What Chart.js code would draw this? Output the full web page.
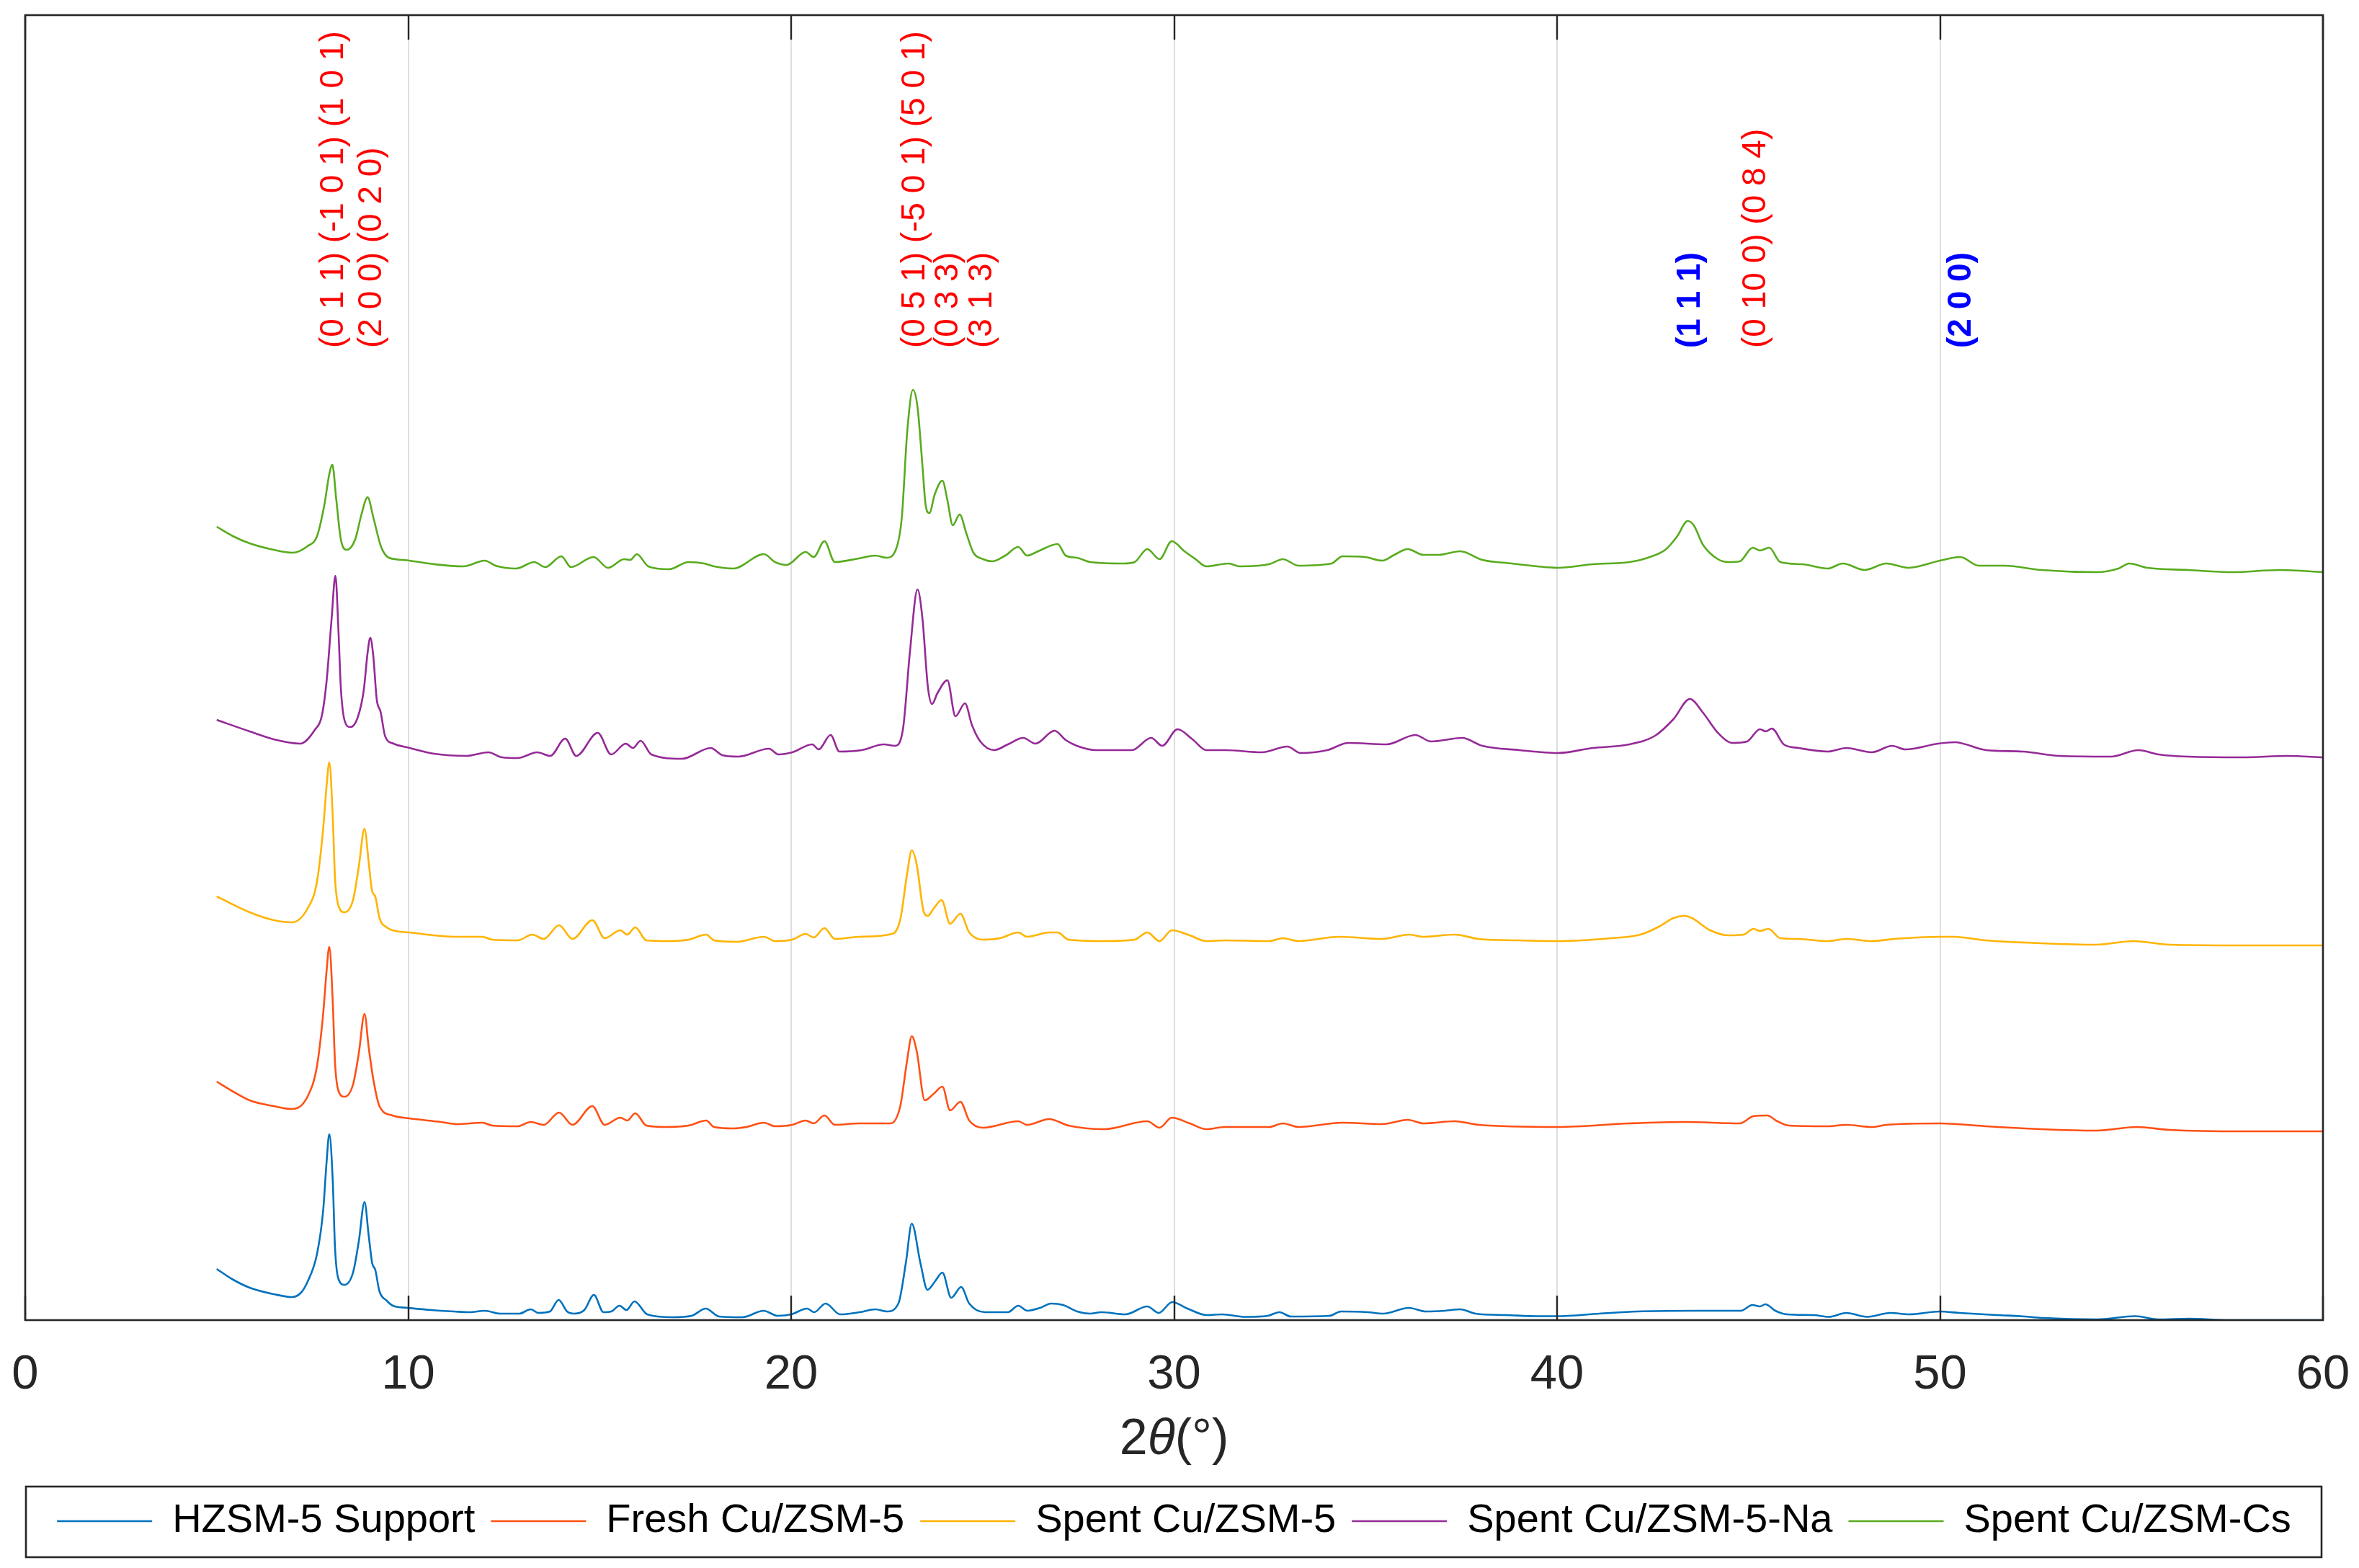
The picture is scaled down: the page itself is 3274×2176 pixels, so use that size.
<!DOCTYPE html>
<html>
<head>
<meta charset="utf-8">
<style>
  html, body { margin: 0; padding: 0; background: #ffffff; }
  #wrap { width: 3274px; height: 2176px; position: relative; }
  canvas { display: block; }
</style>
<script src="https://cdn.jsdelivr.net/npm/chart.js@4.4.1/dist/chart.umd.min.js"></script>
</head>
<body>
<div id="wrap"><canvas id="c" width="3274" height="2176"></canvas></div>
<script>
// ---------------- DATA ----------------
const seriesNames = ['HZSM-5 Support', 'Fresh Cu/ZSM-5', 'Spent Cu/ZSM-5', 'Spent Cu/ZSM-5-Na', 'Spent Cu/ZSM-Cs'];
const seriesColors = ['#0072BD', '#FF5014', '#FFB400', '#952A97', '#58AB1E'];
const xTicks = [0, 10, 20, 30, 40, 50, 60];
const xTitleParts = ['2', 'θ', '(°)'];

// [2θ (deg), offset intensity (a.u.)]
const hzsmSupport = [[5.0,71],[5.4,57],[5.86,45],[6.49,36],[6.96,32],[7.2,38],[7.37,53],[7.62,92],[7.78,152],[7.87,220],[7.94,258],[8.03,194],[8.09,100],[8.18,57],[8.34,49],[8.56,66],[8.71,109],[8.86,164],[8.97,117],[9.06,79],[9.14,70],[9.25,40],[9.44,27],[9.6,20],[10.0,17],[10.6,14],[11.2,12],[11.6,11],[12.0,13],[12.4,9],[12.9,9],[13.2,15],[13.4,10],[13.7,12],[13.93,28],[14.15,12],[14.34,9],[14.6,14],[14.85,35],[15.1,11],[15.3,12],[15.52,20],[15.7,14],[15.91,26],[16.24,8],[16.9,4],[17.4,6],[17.77,16],[18.12,5],[18.73,4],[19.28,13],[19.65,6],[20.0,8],[20.42,16],[20.6,11],[20.9,23],[21.28,8],[21.79,11],[22.2,15],[22.5,12],[22.8,23],[23.0,81],[23.15,134],[23.38,78],[23.56,42],[23.76,54],[23.95,66],[24.18,31],[24.44,46],[24.65,23],[25.06,11],[25.66,11],[25.93,20],[26.17,13],[26.5,17],[26.79,23],[27.1,21],[27.47,12],[27.8,9],[28.1,11],[28.73,8],[29.3,19],[29.6,10],[29.95,25],[30.35,16],[30.85,7],[31.25,8],[31.85,4.5],[32.45,6],[32.75,11],[33.05,5],[34.06,6],[34.36,12],[35.06,11],[35.46,9],[36.13,17],[36.57,12],[37.07,13],[37.47,15],[37.87,9],[38.68,7],[39.48,5.5],[40.0,5.5],[41.1,9],[42.1,12],[43.5,13],[44.8,13],[45.1,21],[45.3,19],[45.44,22],[45.7,13],[46.0,8],[46.7,7],[47.1,4.5],[47.55,10],[48.1,4.5],[48.7,10],[49.2,8],[50.0,12],[50.5,10],[51.5,7],[52.1,5.5],[52.7,3],[54.1,1],[55.1,5.5],[55.7,1],[56.5,2],[57.55,0],[60.0,0]];

const freshCu = [[5.0,331],[5.4,318],[5.86,305],[6.49,297],[6.96,293],[7.37,310],[7.62,353],[7.78,425],[7.87,485],[7.94,518],[8.03,442],[8.09,357],[8.18,318],[8.34,310],[8.56,327],[8.71,370],[8.86,425],[8.97,378],[9.09,334],[9.25,297],[9.59,284],[10.03,280],[10.85,275],[11.27,272],[11.94,274],[12.19,270],[12.86,269],[13.2,275],[13.54,271],[13.94,288],[14.29,271],[14.81,297],[15.13,271],[15.54,281],[15.72,277],[15.93,287],[16.22,270],[16.73,268],[17.32,270],[17.78,277],[17.99,268],[18.49,266],[18.83,268],[19.29,274],[19.58,269],[20.03,271],[20.38,277],[20.59,273],[20.87,284],[21.14,271],[21.77,273],[22.6,273],[22.85,297],[23.03,361],[23.15,394],[23.28,373],[23.49,305],[23.72,314],[23.95,324],[24.15,291],[24.42,303],[24.65,277],[25.01,267],[25.93,276],[26.16,271],[26.74,279],[27.24,270],[28.18,265],[29.3,276],[29.62,267],[29.94,281],[30.41,273],[30.84,265],[31.33,268],[32.48,268],[32.84,273],[33.25,268],[34.4,274],[35.44,272],[36.1,278],[36.51,273],[37.33,276],[37.95,271],[40.02,268],[41.89,273],[43.33,275],[44.77,273],[45.13,283],[45.49,284],[45.75,276],[46.05,270],[47.07,269],[47.55,271],[48.22,268],[48.6,271],[50.0,273],[50.43,272],[51.2,269],[52.64,265],[54.08,263],[55.13,268],[56.0,264],[57.92,262],[60.0,262]];

const spentCu = [[5.0,588],[5.86,566],[6.49,555],[6.96,552],[7.37,571],[7.62,609],[7.78,682],[7.87,742],[7.94,774],[8.03,699],[8.09,613],[8.18,575],[8.34,566],[8.56,583],[8.71,629],[8.86,682],[8.97,635],[9.06,595],[9.14,588],[9.25,558],[9.44,545],[9.59,541],[10.03,538],[11.27,532],[11.94,532],[12.19,528],[12.86,527],[13.24,535],[13.54,529],[13.94,548],[14.29,529],[14.81,555],[15.13,530],[15.54,541],[15.72,535],[15.93,545],[16.22,527],[16.81,526],[17.32,528],[17.78,535],[17.99,527],[18.58,525],[19.29,532],[19.58,526],[20.03,528],[20.38,536],[20.59,531],[20.87,544],[21.14,529],[21.77,532],[22.64,536],[22.85,556],[23.03,620],[23.15,652],[23.28,632],[23.46,567],[23.57,561],[23.72,571],[23.93,583],[24.15,550],[24.42,564],[24.65,538],[25.01,528],[25.45,530],[25.93,538],[26.16,532],[26.74,538],[26.96,538],[27.24,528],[28.18,526],[28.97,528],[29.3,538],[29.62,526],[29.94,541],[30.41,534],[30.84,526],[31.33,527],[32.48,526],[32.84,530],[33.25,526],[34.3,532],[35.44,529],[36.13,535],[36.51,532],[37.33,535],[37.95,529],[39.01,527],[40.02,526],[41.41,530],[42.18,535],[42.66,546],[43.04,558],[43.33,561],[43.52,558],[44.0,541],[44.48,534],[44.87,535],[45.13,543],[45.3,540],[45.52,543],[45.83,530],[46.3,529],[47.07,526],[47.55,529],[48.22,526],[48.8,529],[50.0,532],[50.35,532],[51.2,527],[52.64,523],[54.08,521],[55.04,526],[56.0,521],[57.92,520],[60.0,520]];

const spentCuNa = [[5.0,833],[5.86,817],[6.49,806],[7.18,800],[7.56,819],[7.75,840],[7.87,887],[8.0,973],[8.1,1033],[8.18,956],[8.24,879],[8.34,832],[8.49,823],[8.68,836],[8.84,874],[8.94,926],[9.01,947],[9.09,921],[9.18,861],[9.28,844],[9.4,810],[9.62,800],[10.04,794],[10.68,786],[11.52,783],[12.09,788],[12.45,781],[12.86,780],[13.37,788],[13.71,783],[14.1,807],[14.39,783],[14.95,815],[15.3,785],[15.68,800],[15.87,794],[16.07,804],[16.35,785],[17.15,779],[17.9,794],[18.2,784],[18.62,782],[19.42,793],[19.67,785],[20.03,788],[20.55,799],[20.72,792],[21.03,812],[21.26,789],[21.84,791],[22.42,799],[22.71,797],[22.92,820],[23.1,926],[23.3,1014],[23.43,973],[23.57,879],[23.68,855],[23.82,870],[24.08,888],[24.29,838],[24.54,856],[24.72,826],[24.94,803],[25.3,791],[25.66,799],[26.06,808],[26.38,800],[26.88,818],[27.17,805],[27.46,797],[27.96,791],[28.9,791],[29.4,808],[29.69,797],[30.09,820],[30.48,806],[30.84,791],[31.33,791],[32.29,788],[32.96,796],[33.3,787],[34.0,791],[34.55,801],[35.55,799],[36.3,812],[36.71,803],[37.52,808],[38.05,797],[39.01,791],[40.02,787],[40.93,794],[41.89,799],[42.56,811],[43.04,834],[43.47,862],[43.81,843],[44.2,815],[44.58,801],[44.96,803],[45.3,820],[45.45,817],[45.61,821],[45.92,799],[46.3,794],[47.07,789],[47.55,794],[48.22,788],[48.75,797],[49.09,792],[49.95,800],[50.38,802],[51.2,791],[52.16,789],[53.12,783],[54.46,782],[55.18,791],[55.71,785],[56.48,782],[57.92,781],[59.07,783],[60.0,781]];

const spentCuCs = [[5.0,1101],[5.42,1088],[5.86,1078],[6.49,1069],[6.99,1065],[7.37,1074],[7.62,1088],[7.81,1131],[7.94,1174],[8.02,1187],[8.12,1140],[8.24,1084],[8.4,1069],[8.62,1084],[8.78,1118],[8.94,1142],[9.09,1114],[9.28,1075],[9.44,1060],[9.67,1056],[10.03,1054],[10.68,1049],[11.44,1046],[12.0,1054],[12.28,1047],[12.82,1043],[13.29,1052],[13.58,1045],[14.0,1060],[14.25,1045],[14.84,1059],[15.22,1044],[15.64,1056],[15.8,1055],[15.97,1063],[16.27,1046],[16.81,1042],[17.32,1052],[17.73,1050],[17.99,1046],[18.49,1043],[19.29,1063],[19.58,1052],[19.88,1048],[20.38,1066],[20.59,1059],[20.87,1081],[21.14,1052],[21.77,1057],[22.2,1061],[22.49,1058],[22.74,1070],[22.89,1114],[23.03,1232],[23.18,1291],[23.3,1267],[23.43,1185],[23.51,1132],[23.61,1120],[23.75,1146],[23.95,1165],[24.08,1138],[24.22,1103],[24.4,1118],[24.58,1091],[24.76,1065],[25.01,1056],[25.26,1053],[25.59,1061],[25.93,1073],[26.16,1061],[26.45,1067],[26.96,1077],[27.17,1061],[27.46,1058],[27.82,1052],[28.68,1050],[28.97,1052],[29.3,1070],[29.62,1056],[29.94,1081],[30.27,1067],[30.56,1056],[30.84,1046],[31.42,1050],[31.71,1046],[32.48,1049],[32.84,1056],[33.25,1047],[34.11,1050],[34.4,1060],[34.98,1059],[35.44,1054],[35.75,1062],[36.1,1070],[36.51,1062],[36.9,1062],[37.47,1067],[38.05,1055],[38.82,1050],[39.49,1046],[40.02,1044],[40.93,1049],[41.89,1052],[42.37,1058],[42.85,1070],[43.14,1088],[43.41,1109],[43.57,1103],[43.81,1076],[44.2,1056],[44.48,1052],[44.77,1053],[45.11,1072],[45.3,1068],[45.54,1072],[45.83,1052],[46.4,1049],[47.07,1043],[47.46,1050],[48.03,1041],[48.6,1050],[49.18,1044],[50.0,1054],[50.53,1059],[51.01,1047],[51.68,1047],[52.64,1041],[54.08,1038],[54.66,1043],[54.94,1050],[55.42,1044],[56.48,1041],[57.63,1038],[58.88,1041],[60.0,1038]];

// hkl reflection labels (text, 2θ position, phase: z = ZSM-5 (red), c = Cu (blue bold))
const hklTexts  = ['(0 1 1) (-1 0 1) (1 0 1)', '(2 0 0) (0 2 0)', '(0 5 1) (-5 0 1) (5 0 1)', '(0 3 3)', '(3 1 3)', '(1 1 1)', '(0 10 0) (0 8 4)', '(2 0 0)'];
const hklAngles = [8.05, 9.05, 23.24, 24.11, 25.0, 43.48, 45.2, 50.57];
const hklPhase  = ['z', 'z', 'z', 'z', 'z', 'c', 'z', 'c'];
const hklBaseLevel = 1349;

const yRange = [0, 1811];

// ---------------- CHART ----------------
const FONT = '"Liberation Sans", Arial, Helvetica, sans-serif';
const allSeries = [hzsmSupport, freshCu, spentCu, spentCuNa, spentCuCs];

const datasets = allSeries.map((s, i) => ({
  label: seriesNames[i],
  data: s.map(p => ({ x: p[0], y: p[1] })),
  borderColor: seriesColors[i],
  backgroundColor: seriesColors[i],
  borderWidth: 2.6,
  pointRadius: 0,
  pointHoverRadius: 0,
  cubicInterpolationMode: 'monotone',
  fill: false
}));

const decor = {
  id: 'decor',
  beforeDraw(chart) {
    const ctx = chart.ctx;
    ctx.save();
    ctx.fillStyle = '#ffffff';
    ctx.fillRect(0, 0, chart.width, chart.height);
    ctx.restore();
  },
  afterDraw(chart) {
    const { ctx, chartArea: a, scales } = chart;
    const xs = scales.x, ys = scales.y;
    ctx.save();
    // axes box
    ctx.strokeStyle = '#262626';
    ctx.lineWidth = 2.6;
    ctx.strokeRect(a.left, a.top, a.right - a.left, a.bottom - a.top);
    // inward ticks top & bottom
    ctx.lineWidth = 2.4;
    ctx.beginPath();
    xTicks.forEach(v => {
      const px = Math.round(xs.getPixelForValue(v));
      ctx.moveTo(px, a.bottom); ctx.lineTo(px, a.bottom - 34);
      ctx.moveTo(px, a.top); ctx.lineTo(px, a.top + 34);
    });
    ctx.stroke();

    // x axis title 2θ(°) with italic theta
    const tSize = 70;
    const fNorm = tSize + 'px ' + FONT;
    const fIt = 'italic ' + tSize + 'px ' + FONT;
    ctx.fillStyle = '#262626';
    ctx.textBaseline = 'alphabetic';
    ctx.textAlign = 'left';
    const fonts = [fNorm, fIt, fNorm];
    const widths = xTitleParts.map((t, i) => { ctx.font = fonts[i]; return ctx.measureText(t).width; });
    const total = widths.reduce((s, w) => s + w, 0);
    let tx = (a.left + a.right) / 2 - total / 2;
    const ty = a.bottom + 186;
    xTitleParts.forEach((t, i) => { ctx.font = fonts[i]; ctx.fillText(t, tx, ty); tx += widths[i]; });

    // hkl labels (rotated, reading upward)
    const yBase = ys.getPixelForValue(hklBaseLevel);
    hklTexts.forEach((t, i) => {
      const px = xs.getPixelForValue(hklAngles[i]);
      ctx.save();
      ctx.translate(px, yBase);
      ctx.rotate(-Math.PI / 2);
      ctx.textAlign = 'left';
      ctx.textBaseline = 'middle';
      if (hklPhase[i] === 'c') {
        ctx.font = 'bold 46px ' + FONT;
        ctx.fillStyle = '#0000FF';
      } else {
        ctx.font = '46px ' + FONT;
        ctx.fillStyle = '#FF0000';
      }
      ctx.fillText(t, 0, 0);
      ctx.restore();
    });

    // legend frame
    const L = chart.legend;
    if (L) {
      const cy = L.top + L.options.labels.padding + 28;
      ctx.strokeStyle = '#262626';
      ctx.lineWidth = 2.6;
      ctx.strokeRect(a.left + 1, cy - 48, (a.right - 2) - (a.left + 1), 98);
    }
    ctx.restore();
  }
};

new Chart(document.getElementById('c'), {
  type: 'line',
  data: { datasets },
  plugins: [decor],
  options: {
    responsive: false,
    animation: false,
    devicePixelRatio: 1,
    layout: { padding: { left: 35, right: 50, top: 21, bottom: 27 } },
    plugins: {
      legend: {
        display: true,
        position: 'bottom',
        align: 'center',
        labels: {
          font: { family: FONT, size: 56 },
          color: '#000000',
          padding: 22,
          usePointStyle: true,
          pointStyle: 'line',
          pointStyleWidth: 132
        }
      },
      tooltip: { enabled: false },
      title: { display: false }
    },
    scales: {
      x: {
        type: 'linear',
        min: 0,
        max: 60,
        afterBuildTicks: s => { s.ticks = xTicks.map(v => ({ value: v })); },
        afterFit: s => { s.height = 229; },
        ticks: {
          font: { family: FONT, size: 67 },
          color: '#262626',
          padding: 0,
          maxRotation: 0,
          autoSkip: false
        },
        grid: { color: '#dfdfdf', lineWidth: 2, drawTicks: true, tickLength: 36, tickColor: 'rgba(0,0,0,0)' },
        border: { display: false }
      },
      y: {
        display: false,
        min: yRange[0],
        max: yRange[1]
      }
    }
  }
});
</script>
</body>
</html>
